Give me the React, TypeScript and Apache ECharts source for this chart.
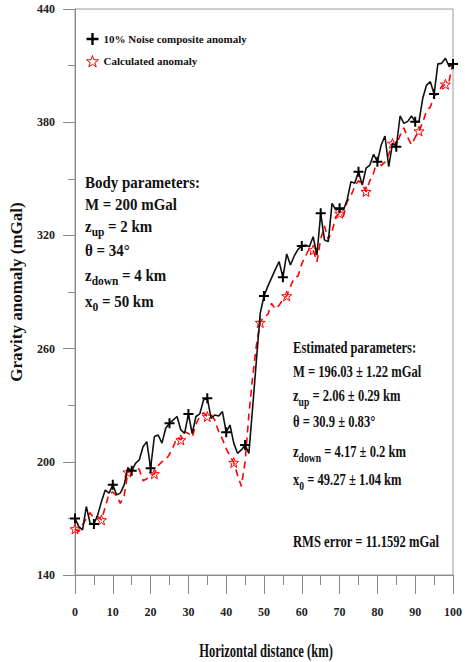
import React, { useEffect, useRef } from "react";
import * as echarts from "echarts";

// Horizontal distance along the profile (km), 1 km sampling
const distanceKm = [
  0, 1, 2, 3, 4, 5, 6, 7, 8, 9, 10, 11, 12, 13, 14, 15, 16, 17, 18, 19, 20,
  21, 22, 23, 24, 25, 26, 27, 28, 29, 30, 31, 32, 33, 34, 35, 36, 37, 38, 39, 40,
  41, 42, 43, 44, 45, 46, 47, 48, 49, 50, 51, 52, 53, 54, 55, 56, 57, 58, 59, 60,
  61, 62, 63, 64, 65, 66, 67, 68, 69, 70, 71, 72, 73, 74, 75, 76, 77, 78, 79, 80,
  81, 82, 83, 84, 85, 86, 87, 88, 89, 90, 91, 92, 93, 94, 95, 96, 97, 98, 99, 100,
];

// Composite anomaly with 10% noise (mGal)
const noisyAnomaly = [
  170, 165.6, 163.9, 176.3, 167.4, 167, 171.8, 178.9, 185, 183.4, 187.8,
  182.5, 183.4, 187.8, 196.8, 195.2, 199.2, 201, 208, 210.7, 196.6,
  213.4, 214.2, 209.9, 217.8, 220.4, 222.2, 224, 216.9, 215.1, 225.4,
  215, 224, 225.4, 232.8, 233.7, 223, 224.8, 224.3, 226.6, 215.7,
  219.5, 209.9, 204.5, 206.3, 208.9, 204.5, 229, 254, 278.7, 287.9,
  293, 297.5, 302, 306.1, 297.8, 310.2, 304.3, 309.1, 312.6, 314.4,
  314.9, 314, 319.3, 309.6, 331.7, 317.6, 316.7, 337, 333.5, 334.4,
  333.5, 338.8, 348.5, 347.6, 353.8, 346.7, 355.6, 357.3, 363, 359.1,
  367.9, 372.7, 356.4, 368.8, 367, 383.3, 379.4, 380.3, 383.3, 380.3,
  380.3, 392.7, 399.7, 401.5, 395, 410.9, 411.2, 413.9, 409.4, 410.9,
];

// Anomaly computed from the estimated body parameters (mGal)
const calculatedAnomaly = [
  164.4, 163, 166.5, 170, 173, 170, 171, 169.2, 176, 183, 184,
  182, 178, 182, 194.5, 195, 197, 196, 190, 191, 193,
  193.6, 198, 200, 201, 204, 208, 213, 211.6, 216, 215,
  213, 220, 224, 226, 224, 225, 222, 216, 212, 207,
  203, 199.6, 193, 187, 200, 225, 245, 262, 273.8, 277,
  278, 284, 281, 283, 286, 287.9, 293, 297.5, 298.5, 305,
  309, 313, 312.3, 306, 318, 325, 318, 322, 330, 331.7,
  330, 338, 341, 346, 349, 347, 343.2, 349, 353, 361,
  357, 359, 363, 368.8, 368, 373, 377, 372, 368, 372,
  375.3, 380, 386, 388, 394, 395, 399, 400.1, 402, 412,
];

const seriesNames = ["10% Noise composite anomaly", "Calculated anomaly"];
const noisyMarkerEvery = 5;
const calculatedMarkerEvery = 7;

const yTickLabels = [140, 200, 260, 320, 380, 440];
const yMinorTicks = [170, 230, 290, 350, 410];

const bodyParams = [
  "Body parameters:",
  "M = 200 mGal",
  "{m|z}{s|up}{m| = 2 km}",
  "θ = 34°",
  "{m|z}{s|down}{m| = 4 km}",
  "{m|x}{s|0}{m| = 50 km}",
];

const estimatedParams = [
  "Estimated parameters:",
  "M = 196.03 ± 1.22 mGal",
  "{m|z}{s|up}{m| = 2.06 ± 0.29 km}",
  "θ = 30.9 ± 0.83°",
  "{m|z}{s|down}{m| = 4.17 ± 0.2 km}",
  "{m|x}{s|0}{m| = 49.27 ± 1.04 km}",
];
const rmsText = "RMS error = 11.1592 mGal";

const PLUS = "path://M4,0H6V4H10V6H6V10H4V6H0V4H4Z";
const STAR =
  "path://M10,0L12.35,6.76L19.51,6.91L13.8,11.24L15.88,18.09L10,14L4.12,18.09L6.2,11.24L0.49,6.91L7.65,6.76Z";

const SERIF = '"Liberation Serif", "Times New Roman", serif';
const INK = "#111";
const AXIS_GREY = "#8a8a8a";

function textLine(text: string, x: number, y: number, fontSize: number, scaleX: number) {
  return {
    type: "text",
    x,
    y,
    scaleX,
    silent: true,
    style: {
      text,
      fill: INK,
      fontFamily: SERIF,
      fontWeight: "bold",
      fontSize,
      align: "left",
      verticalAlign: "middle",
      rich: {
        m: {
          fontFamily: SERIF,
          fontWeight: "bold",
          fontSize,
          lineHeight: fontSize + 3,
          fill: INK,
          verticalAlign: "middle",
        },
        s: {
          fontFamily: SERIF,
          fontWeight: "bold",
          fontSize: Math.round(fontSize * 0.78),
          lineHeight: Math.round(fontSize * 0.78) + 1,
          padding: [12, 0, 0, 0],
          fill: INK,
          verticalAlign: "middle",
        },
      },
    },
  };
}

export default function App() {
  const ref = useRef<HTMLDivElement>(null);

  useEffect(() => {
    if (!ref.current) return;
    const chart = echarts.init(ref.current, undefined, { renderer: "svg" });

    const bodyRows = [182, 204, 226, 250, 275, 301];
    const estRows = [347, 371, 395, 421, 451, 479];

    const graphic: any[] = [];
    bodyParams.forEach((t, i) => graphic.push(textLine(t, 85, bodyRows[i], 17, 0.88)));
    estimatedParams.forEach((t, i) => graphic.push(textLine(t, 293, estRows[i], 17, 0.74)));
    graphic.push(textLine(rmsText, 293, 541, 17, 0.74));
    graphic.push({
      type: "text",
      x: 266,
      y: 651,
      scaleX: 0.66,
      silent: true,
      style: {
        text: "Horizontal distance (km)",
        fill: INK,
        fontFamily: SERIF,
        fontWeight: "bold",
        fontSize: 19,
        align: "center",
        verticalAlign: "middle",
      },
    });

    chart.setOption({
      animation: false,
      backgroundColor: "#fff",
      grid: {
        left: 72,
        right: 5,
        top: 9,
        bottom: 87,
        show: true,
        borderColor: "#9a9a9a",
        borderWidth: 1,
      },
      legend: {
        orient: "vertical",
        left: 81,
        top: 28,
        itemWidth: 12,
        itemHeight: 12,
        itemGap: 10,
        selectedMode: false,
        textStyle: { fontFamily: SERIF, fontWeight: "bold", fontSize: 11, color: INK },
        data: [
          { name: seriesNames[0], icon: PLUS, itemStyle: { color: "#000" } },
          {
            name: seriesNames[1],
            icon: STAR,
            itemStyle: { color: "transparent", borderColor: "#ff0000", borderWidth: 1 },
          },
        ],
      },
      xAxis: {
        type: "value",
        min: 0,
        max: 100,
        interval: 10,
        axisLine: { show: true, lineStyle: { color: AXIS_GREY, width: 1 } },
        axisTick: { show: true, length: 19, lineStyle: { color: AXIS_GREY } },
        minorTick: { show: true, splitNumber: 2, length: 10, lineStyle: { color: AXIS_GREY } },
        splitLine: { show: false },
        axisLabel: {
          margin: 31,
          fontFamily: SERIF,
          fontWeight: "bold",
          fontSize: 12,
          color: "#222",
        },
      },
      yAxis: [
        {
          type: "value",
          min: 140,
          max: 440,
          name: "Gravity anomaly (mGal)",
          nameLocation: "middle",
          nameRotate: 90,
          nameGap: 50,
          nameTextStyle: { fontFamily: SERIF, fontWeight: "bold", fontSize: 17, color: INK },
          axisLine: { show: true, lineStyle: { color: AXIS_GREY, width: 1 } },
          axisTick: { show: true, length: 12, customValues: yTickLabels, lineStyle: { color: AXIS_GREY } },
          splitLine: { show: false },
          axisLabel: {
            customValues: yTickLabels,
            margin: 20,
            fontFamily: SERIF,
            fontWeight: "bold",
            fontSize: 12,
            color: "#222",
          },
        },
        {
          type: "value",
          min: 140,
          max: 440,
          position: "left",
          axisLine: { show: false },
          axisTick: { show: true, length: 7, customValues: yMinorTicks, lineStyle: { color: AXIS_GREY } },
          axisLabel: { show: false },
          splitLine: { show: false },
        },
      ],
      series: [
        {
          name: seriesNames[1],
          type: "line",
          z: 2,
          symbol: STAR,
          symbolSize: 10,
          showAllSymbol: true,
          data: distanceKm.map((x, i) => ({
            value: [x, calculatedAnomaly[i]],
            symbol: i % calculatedMarkerEvery === 0 ? STAR : "none",
          })),
          lineStyle: { color: "#ff0000", width: 1.6, type: [7, 5] },
          itemStyle: { color: "transparent", borderColor: "#ff0000", borderWidth: 1 },
        },
        {
          name: seriesNames[0],
          type: "line",
          z: 3,
          symbol: PLUS,
          symbolSize: 10,
          showAllSymbol: true,
          data: distanceKm.map((x, i) => ({
            value: [x, noisyAnomaly[i]],
            symbol: i % noisyMarkerEvery === 0 ? PLUS : "none",
          })),
          lineStyle: { color: "#111", width: 1.6 },
          itemStyle: { color: "#000" },
        },
      ],
      graphic,
    });

    return () => chart.dispose();
  }, []);

  return (
    <div
      ref={ref}
      style={{ position: "absolute", left: 0, top: 0, width: 465, height: 662 }}
    />
  );
}
